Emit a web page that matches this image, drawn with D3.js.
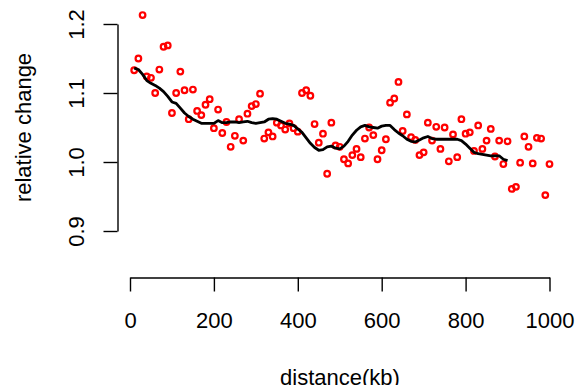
<!DOCTYPE html>
<html>
<head>
<meta charset="utf-8">
<script src="https://cdn.jsdelivr.net/npm/d3@7"></script>
<style>
  body { margin: 0; background: #fff; }
  svg text { font-family: "Liberation Sans", Arial, Helvetica, sans-serif; }
</style>
</head>
<body>
<div id="chart"></div>
<script>
// points: distance (kb) and relative change
const distance = d3.range(10, 1001, 10);
const relChange = [
  1.133, 1.150, 1.213, 1.124, 1.122, 1.100, 1.134, 1.167, 1.169, 1.071,
  1.100, 1.131, 1.104, 1.062, 1.105, 1.074, 1.068, 1.083, 1.091, 1.049,
  1.076, 1.042, 1.058, 1.022, 1.038, 1.062, 1.031, 1.070, 1.081, 1.084,
  1.099, 1.034, 1.043, 1.037, 1.057, 1.053, 1.047, 1.056, 1.049, 1.044,
  1.100, 1.104, 1.096, 1.055, 1.028, 1.041, 0.983, 1.057, 1.024, 1.022,
  1.004, 0.998, 1.010, 1.019, 1.007, 1.034, 1.050, 1.039, 1.004, 1.017,
  1.033, 1.086, 1.092, 1.116, 1.045, 1.069, 1.036, 1.032, 1.010, 1.014,
  1.057, 1.031, 1.051, 1.019, 1.050, 1.001, 1.040, 1.007, 1.062, 1.041,
  1.043, 1.016, 1.053, 1.019, 1.031, 1.048, 1.008, 1.031, 0.997, 1.030,
  0.961, 0.964, 0.999, 1.037, 1.022, 0.998, 1.035, 1.034, 0.952, 0.997
];

// smoothed curve (10..900 kb)
const smoothX = d3.range(10, 901, 10);
const smoothY = [
  1.136, 1.134, 1.127, 1.118, 1.114, 1.111, 1.107, 1.102, 1.095, 1.087,
  1.085, 1.078, 1.071, 1.066, 1.062, 1.059, 1.056, 1.056, 1.056, 1.056,
  1.060, 1.057, 1.057, 1.058, 1.058, 1.057, 1.058, 1.059, 1.057, 1.056,
  1.057, 1.058, 1.062, 1.063, 1.062, 1.059, 1.056, 1.055, 1.053, 1.048,
  1.043, 1.035, 1.027, 1.021, 1.017, 1.018, 1.022, 1.023, 1.020, 1.019,
  1.023, 1.030, 1.039, 1.046, 1.051, 1.053, 1.051, 1.050, 1.049, 1.052,
  1.053, 1.053, 1.047, 1.042, 1.038, 1.033, 1.030, 1.029, 1.032, 1.035,
  1.037, 1.034, 1.033, 1.033, 1.033, 1.033, 1.033, 1.033, 1.031, 1.026,
  1.020, 1.014, 1.012, 1.011, 1.010, 1.009, 1.009, 1.009, 1.004, 1.002
];

const xTicks = [0, 200, 400, 600, 800, 1000];
const yTicks = [0.9, 1.0, 1.1, 1.2];

const W = 579, H = 385;
const fontSize = 22;

const svg = d3.select("#chart")
  .append("svg")
    .attr("width", W)
    .attr("height", H);

const x = d3.scaleLinear()
    .domain([0, 1000])
    .range([130, 549.5]);

const y = d3.scaleLinear()
    .domain([0.9, 1.2])
    .range([231, 24]);

// x axis
const xAxis = svg.append("g")
    .attr("transform", "translate(0,277.5)")
    .call(d3.axisBottom(x).tickValues(xTicks).tickSize(14).tickSizeOuter(0).tickFormat(d3.format("d")));
xAxis.selectAll("path, line").attr("stroke", "#000").attr("stroke-width", 1.4);
xAxis.selectAll("text")
    .attr("y", 50.5)
    .attr("dy", 0)
    .attr("font-size", fontSize)
    .attr("fill", "#000");

// y axis
const yAxis = svg.append("g")
    .attr("transform", "translate(117.5,0)")
    .call(d3.axisLeft(y).tickValues(yTicks).tickSize(14).tickSizeOuter(0).tickFormat(d3.format(".1f")));
yAxis.selectAll("path, line").attr("stroke", "#000").attr("stroke-width", 1.4);
yAxis.selectAll("text")
    .attr("x", 0)
    .attr("y", 0)
    .attr("dy", 0)
    .attr("text-anchor", "middle")
    .attr("transform", "translate(-34,0) rotate(-90)")
    .attr("font-size", fontSize)
    .attr("fill", "#000");

svg.selectAll(".domain").attr("fill", "none");

// points
svg.append("g")
  .selectAll("circle")
  .data(distance)
  .join("circle")
    .attr("cx", d => x(d))
    .attr("cy", (d, i) => y(relChange[i]))
    .attr("r", 2.8)
    .attr("fill", "none")
    .attr("stroke", "#ff0000")
    .attr("stroke-width", 2.2);

// smoothed line
const line = d3.line()
    .x(d => x(d[0]))
    .y(d => y(d[1]));

svg.append("path")
    .datum(smoothX.map((d, i) => [d, smoothY[i]]))
    .attr("fill", "none")
    .attr("stroke", "#000")
    .attr("stroke-width", 2.8)
    .attr("stroke-linejoin", "round")
    .attr("d", line);

// axis titles
svg.append("text")
    .attr("x", 340)
    .attr("y", 385)
    .attr("text-anchor", "middle")
    .attr("font-size", fontSize)
    .text("distance(kb)");

svg.append("text")
    .attr("transform", "translate(31,127.5) rotate(-90)")
    .attr("text-anchor", "middle")
    .attr("font-size", fontSize)
    .text("relative change");
</script>
</body>
</html>
